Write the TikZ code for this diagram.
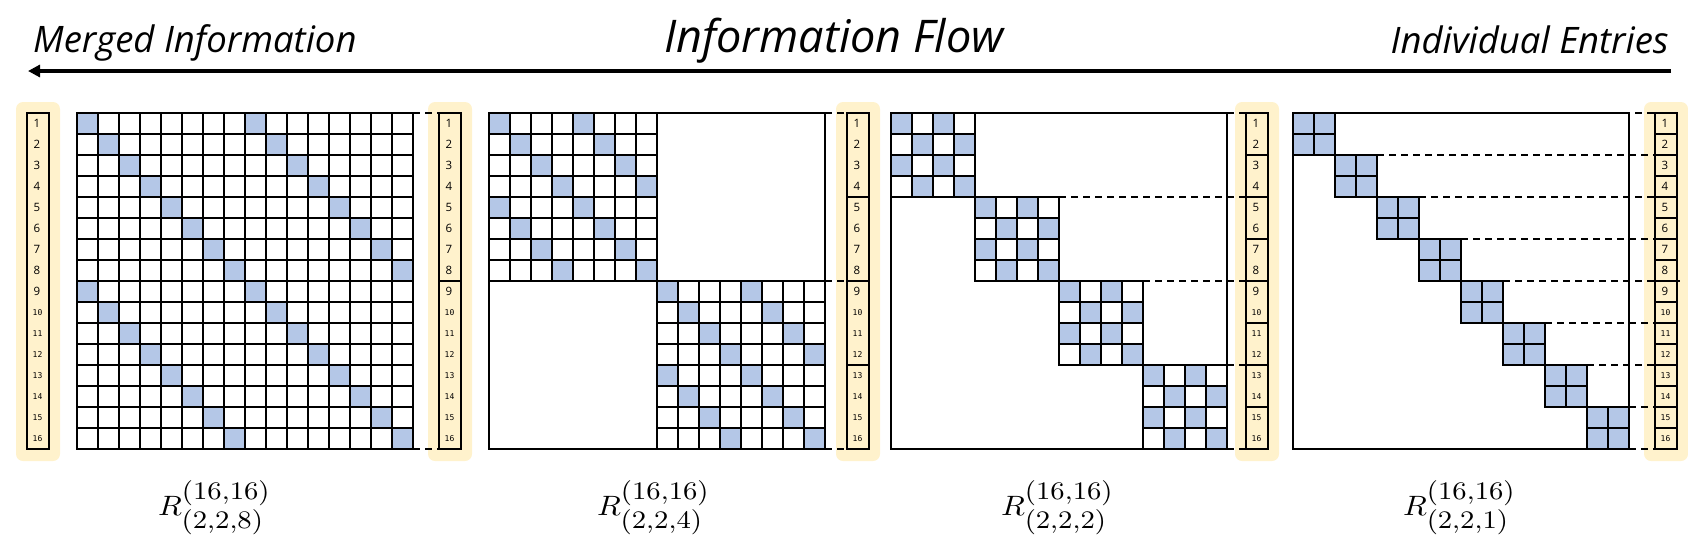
\documentclass[tikz,border=0pt]{standalone}
\usepackage{fontspec}
\setmainfont{Open Sans}
\newfontfamily\monofont{DejaVu Sans Mono}
\DeclareMathSizes{10}{10}{9}{7}
\usetikzlibrary{arrows.meta}
\definecolor{cellblue}{HTML}{B4C7E7}
\definecolor{colbg}{HTML}{FFF2CC}
\tikzset{
  gridline/.style={line width=1.7pt, black, line cap=rect},
  boxline/.style={line width=1.8pt, black},
  dashline/.style={line width=1.8pt, black, dash pattern=on 7pt off 5pt},
  numsmall/.style={inner sep=0pt, font=\fontsize{11.5}{12}\selectfont},
  numtiny/.style={inner sep=0pt, font=\monofont\fontsize{8}{9}\selectfont},
  toptext/.style={inner sep=0pt, font=\fontsize{36.5}{40}\selectfont\itshape},
  titletext/.style={inner sep=0pt, font=\fontsize{45}{50}\selectfont\itshape},
  rlabel/.style={inner sep=0pt},
}
\newcommand\drawmat[4]{%
  \pgfmathtruncatemacro\nb{16/#2}%
  \pgfmathtruncatemacro\nbm{\nb-1}%
  \pgfmathtruncatemacro\bm{#2-1}%
  \foreach \t in {0,...,\nbm}{%
    \foreach \r in {0,...,\bm}{%
      \foreach \c in {0,...,\bm}{%
        \pgfmathtruncatemacro\md{mod(\c-\r+16,#3)}%
        \ifnum\md=0 \fill[cellblue] ({#1+21*(#2*\t+\c)},{113+21*(#2*\t+\r)}) rectangle ++(21,21);\fi
      }}%
    \foreach \i in {0,...,#2}{%
      \draw[gridline] ({#1+21*(#2*\t+\i)},{113+21*#2*\t}) -- ++(0,{21*#2});
      \draw[gridline] ({#1+21*#2*\t},{113+21*(#2*\t+\i)}) -- ++({21*#2},0);
    }%
  }%
  \draw[gridline] (#1,113) rectangle ++(336,336);
  \foreach \t in {0,...,\nb}{%
    \pgfmathsetmacro\xs{min(#1+21*#2*(\t+1), #1+336)}%
    \draw[dashline] (\xs,{113+21*#2*\t}) -- (#4,{113+21*#2*\t});
  }%
}
\newcommand\drawcol[2]{%
  \fill[colbg, rounded corners=7pt] ({#1-11},102) rectangle ({#1+33},461);
  \draw[boxline] (#1,113) rectangle ++(22,336);
  \foreach \i in {1,...,15}{%
    \pgfmathtruncatemacro\md{mod(\i,#2)}%
    \ifnum\md=0 \draw[boxline] (#1,{113+21*\i}) -- ++(22,0);\fi
  }%
  \foreach \i in {1,...,9}{\node[numsmall] at ({#1+10},{113+21*\i-10.5}) {\i};}%
  \foreach \i in {10,...,16}{\node[numtiny] at ({#1+10.5},{113+21*\i-10.5}) {\i};}%
}
\begin{document}
\begin{tikzpicture}[x=1pt,y=-1pt]
\useasboundingbox (0,0) rectangle (1688,547);
% header
\node[toptext, anchor=base west] (merged) at (33,52) {Merged Information};
\node[titletext, anchor=base] (title) at (834,52) {Information Flow};
\node[toptext, anchor=base east] (indiv) at (1669,53) {Individual Entries};
\coordinate (arrS) at (1671,71);
\coordinate (arrE) at (28,71);
\draw[line width=3.5pt, -{Triangle[length=12pt,width=12pt]}] (arrS) -- (arrE);
% columns
\drawcol{27}{16}
\drawcol{439}{8}
\drawcol{847}{4}
\drawcol{1246}{2}
\drawcol{1655}{1}
% matrices
\drawmat{77}{16}{8}{439}
\drawmat{489}{8}{4}{847}
\drawmat{891}{4}{2}{1246}
\drawmat{1293}{2}{1}{1655}
\draw[dashline] (1676,281) -- (1680,281);
% labels
\node[rlabel, anchor=base west] (l1) at (158,515) {\scalebox{3.1}[2.8]{$R^{(16,16)}_{(2,2,8)}$}};
\node[rlabel, anchor=base west] (l2) at (597,515) {\scalebox{3.1}[2.8]{$R^{(16,16)}_{(2,2,4)}$}};
\node[rlabel, anchor=base west] (l3) at (1001,515) {\scalebox{3.1}[2.8]{$R^{(16,16)}_{(2,2,2)}$}};
\node[rlabel, anchor=base west] (l4) at (1403,515) {\scalebox{3.1}[2.8]{$R^{(16,16)}_{(2,2,1)}$}};
\end{tikzpicture}
\end{document}
